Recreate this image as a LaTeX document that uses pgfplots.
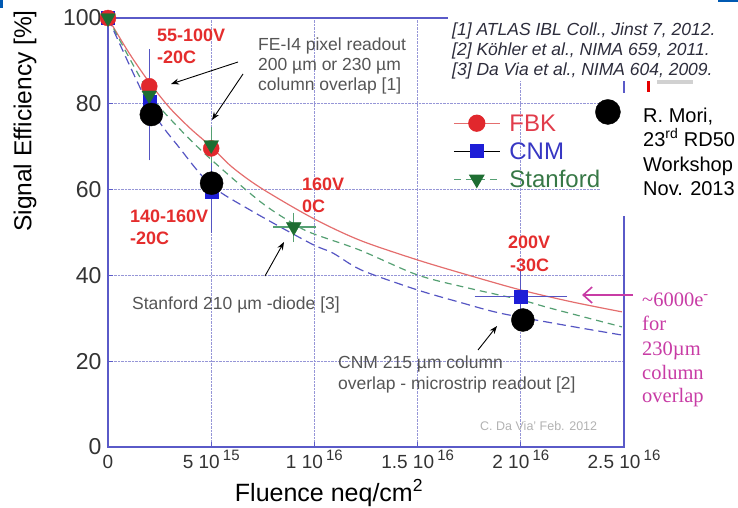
\documentclass[border=0pt]{standalone}
\usepackage{pgfplots}
\pgfplotsset{compat=1.18}
\usetikzlibrary{arrows.meta}
\usepackage{fontspec}
\setmainfont{Liberation Sans}
\newfontfamily\tnr{Liberation Serif}

\definecolor{axblue}{RGB}{90,90,200}
\definecolor{gridc}{RGB}{150,150,215}
\definecolor{fbk}{RGB}{225,40,45}
\definecolor{fbkline}{RGB}{228,110,110}
\definecolor{cnm}{RGB}{30,30,215}
\definecolor{cnmline}{RGB}{85,85,195}
\definecolor{stan}{RGB}{30,110,50}
\definecolor{stanline}{RGB}{85,160,115}
\definecolor{lblred}{RGB}{228,45,45}
\definecolor{anngray}{RGB}{85,85,85}
\definecolor{mag}{RGB}{200,60,165}
\definecolor{refc}{RGB}{45,45,60}
\definecolor{fbktxt}{RGB}{225,60,75}
\definecolor{cnmtxt}{RGB}{55,55,195}
\definecolor{stantxt}{RGB}{55,120,70}

\newcommand\sx[1]{\,\raisebox{8pt}{\fontsize{15}{15}\selectfont #1}}

\pgfplotsset{geom/.style={at={(108pt,-447pt)}, anchor=south west, scale only axis,
  width=516pt, height=429pt, xmin=0, xmax=25, ymin=0, ymax=100, clip=false}}

\begin{document}
\begin{tikzpicture}
\path[use as bounding box] (0,0) rectangle (738pt,-508pt);
\begin{axis}[geom,
  axis line style={axblue, line width=1.4pt},
  xtick={0,5,10,15,20,25},
  xticklabels={0, {5 10\sx{15}}, {1 10\sx{16}}, {1.5 10\sx{16}}, {2 10\sx{16}}, {2.5 10\sx{16}}},
  ytick={0,20,40,60,80,100},
  yticklabels={0,20,40,60,80,100},
  grid=major, major grid style={gridc, densely dotted, line width=1pt},
  tick style={axblue, line width=1pt}, major tick length=5pt,
  tick align=inside, tick pos=left,
  xticklabel style={font=\fontsize{19}{19}\selectfont, text=black!80, anchor=base, yshift=-21pt},
  yticklabel style={font=\fontsize{23}{23}\selectfont, text=black!80, xshift=-3pt},
  legend image code/.code={\draw[mark repeat=2,mark phase=2,#1] plot coordinates {(0pt,0pt)(23pt,0pt)(46pt,0pt)};},
  legend cell align=left,
  legend style={at={(0.6686,0.7776)}, anchor=north west, draw=none, fill=none, inner sep=0pt,
    font=\fontsize{24}{24}\selectfont, row sep=8.8pt,
    nodes={inner sep=1pt, text height=17.2pt, text depth=0pt},
    /tikz/every odd column/.append style={column sep=8pt}},
]
\addlegendimage{fbkline, line width=1.2pt, mark=*, mark options={fbk, solid}, mark size=8pt}
\addlegendentry{\textcolor{fbktxt}{FBK}}
\addlegendimage{black, line width=1.2pt, mark=square*, mark options={cnm, solid}, mark size=6.5pt}
\addlegendentry{\textcolor{cnmtxt}{CNM}}
\addlegendimage{stanline, line width=1.2pt, dash pattern=on 7pt off 5pt, mark=triangle*, mark options={stan, solid, rotate=180}, mark size=8pt}
\addlegendentry{\textcolor{stantxt}{Stanford}}

% fitted curves
\addplot[fbkline, line width=1.2pt, smooth, forget plot] coordinates {
 (0,100) (1,92) (2,85) (3,79) (4,74.2) (5,70) (6,65.3) (7.4,60.4) (9.9,53.4)
 (12.2,48.2) (15,43.6) (17.5,40) (20,36.6) (22.5,33.8) (24.9,31.5)};
\addplot[stanline, line width=1.2pt, dash pattern=on 7pt off 5pt, smooth, forget plot] coordinates {
 (0,100) (2,82.5) (3.5,74) (5,67) (7.4,57.1) (9,52) (9.9,49.8) (12.2,45.9)
 (15,40.1) (17.5,37) (20,34.3) (21.4,32.4) (24.9,28.0)};
\addplot[cnmline, line width=1.2pt, dash pattern=on 9pt off 5pt, smooth, forget plot] coordinates {
 (0,100) (2,79.5) (3.5,69.5) (5,61) (6.9,55.2) (9.8,47.5) (10.9,45.2) (12.3,41.2)
 (15,36.6) (17,33.8) (19,31.2) (22,28.5) (24.9,26.1)};

% CNM
\addplot[only marks, mark=square*, mark size=6.5pt, color=cnm, forget plot,
  error bars/.cd, y dir=both, y explicit, x dir=both, x explicit,
  error bar style={cnmline, line width=1.2pt},
  error mark options={cnmline, line width=1.2pt, mark size=5pt}] coordinates {
 (0,100) +- (0,0)
 (2,80.6) += (0,11) -= (0,12.6)
 (5,59.5) += (0,9) -= (0,8.5)
 (20,35) +- (2,5.3)};
% FBK
\addplot[only marks, mark=*, mark size=8pt, color=fbk, forget plot] coordinates {
 (0,100) (2,84.1) (5,69.6)};
% Stanford
\addplot[only marks, mark=triangle*, mark options={rotate=180}, mark size=8.5pt, color=stan, forget plot,
  error bars/.cd, y dir=both, y explicit, x dir=both, x explicit,
  error bar style={stanline, line width=1.2pt},
  error mark options={stanline, line width=1.2pt, mark size=4pt}] coordinates {
 (0,100) +- (0,0)
 (2,82) +- (0,0)
 (5,70.4) +- (0,3.3)
 (9,51.3) += (0.9,2.4) -= (0.8,2.6)};
% R. Mori points
\addplot[only marks, mark=*, mark size=11.5pt, color=black, forget plot] coordinates {
 (2.1,77.5) (5.02,61.5) (20.1,29.6)};
\end{axis}

% white slide overlays
\fill[white] (448pt,-14pt) rectangle (738pt,-81.5pt);
\fill[white] (600pt,-93pt) rectangle (738pt,-216pt);

% R. Mori key marker, on top of the overlay
\begin{axis}[geom, hide axis]
\addplot[only marks, mark=*, mark size=12.5pt, color=black] coordinates {(24.22,78.1)};
\end{axis}

\begin{scope}[x=1pt,y=-1pt]
% slide artefacts
\fill[red!90!black] (646.5,81) rectangle (649.5,92);
\fill[black!18] (657,80) rectangle (693,84);
\fill[blue!50!cyan!70!black] (718,0) rectangle (738,2.5);
\fill[blue!50!cyan!70!black] (0,0) rectangle (2.5,8);

% axis labels
\node[rotate=90, font=\fontsize{24.5}{24.5}\selectfont] at (25,121) {Signal Efficiency [\%]};
\node[anchor=base, inner sep=0pt, font=\fontsize{25}{25}\selectfont] at (329,501) {Fluence neq/cm\textsuperscript{2}};

% red condition labels
\begin{scope}[every node/.style={anchor=base west, inner sep=0pt, font=\bfseries\fontsize{18}{18}\selectfont, text=lblred}]
\node at (157,41.5) {55-100V};
\node at (157,64) {-20C};
\node at (302,190) {160V};
\node at (302,212) {0C};
\node at (130,222) {140-160V};
\node at (130,244) {-20C};
\node at (508,248) {200V};
\node at (510,271) {-30C};
\end{scope}

% gray annotations
\begin{scope}[every node/.style={anchor=base west, inner sep=0pt, font=\fontsize{17.5}{20}\selectfont, text=anngray}]
\node at (258,51) {FE-I4 pixel readout};
\node at (258,71) {200 µm or 230 µm};
\node at (258,91) {column overlap [1]};
\node at (132,309) {Stanford 210 µm -diode [3]};
\node at (338,368) {CNM 215 µm column};
\node at (338,389) {overlap - microstrip readout [2]};
\end{scope}
\node[anchor=base west, inner sep=0pt, font=\fontsize{12.5}{12.5}\selectfont, text=black!30] at (480,430) {C. Da Via' Feb. 2012};

% arrows
\begin{scope}[line width=0.9pt, -{Stealth[length=8pt,width=6pt]}]
\draw (238,62) -- (171,84);
\draw (243,74) -- (212,120);
\draw (265,276) -- (284,242);
\draw (478,350) -- (497,326);
\end{scope}
\draw[mag, line width=1.6pt, -{Straight Barb[length=9pt,width=16pt]}] (633,295) -- (582,295);

% magenta note
\begin{scope}[every node/.style={anchor=base west, inner sep=0pt, font=\tnr\fontsize{20.5}{20}\selectfont, text=mag}]
\node at (642,306) {\textasciitilde 6000e\textsuperscript{-}};
\node at (642,330) {for};
\node at (642,355) {230µm};
\node at (642,379) {column};
\node at (642,402) {overlap};
\end{scope}

% references
\begin{scope}[every node/.style={anchor=base west, inner sep=0pt, font=\itshape\fontsize{17.5}{20}\selectfont, text=refc}]
\node at (452,35.5) {[1] ATLAS IBL Coll., Jinst 7, 2012.};
\node at (452,55.5) {[2] Köhler et al., NIMA 659, 2011.};
\node at (452,75.5) {[3] Da Via et al., NIMA 604, 2009.};
\end{scope}

% R. Mori note
\begin{scope}[every node/.style={anchor=base west, inner sep=0pt, font=\fontsize{20}{20}\selectfont, text=black}]
\node at (643,122) {R. Mori,};
\node at (643,146.5) {23\textsuperscript{rd} RD50};
\node at (643,171) {Workshop};
\node at (643,195.5) {Nov. 2013};
\end{scope}
\end{scope}
\end{tikzpicture}
\end{document}
